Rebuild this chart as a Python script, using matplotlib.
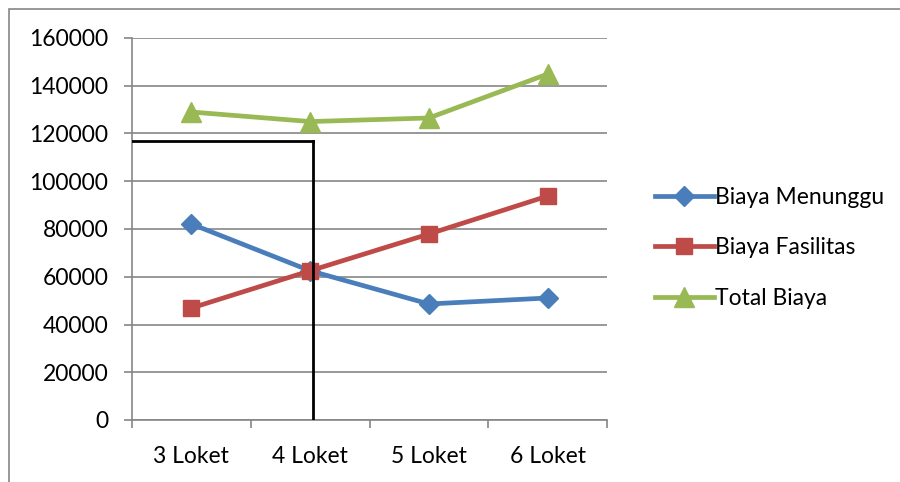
import matplotlib.pyplot as plt
from matplotlib.patches import Rectangle

kategori = ["3 Loket", "4 Loket", "5 Loket", "6 Loket"]
biaya_menunggu = [82100, 62500, 48600, 51100]
biaya_fasilitas = [46900, 62500, 77900, 93800]
total_biaya = [129000, 125000, 126500, 144900]

# garis bantu titik optimum
optimum_x = 1.02
optimum_y = 117000

plt.rcParams['font.family'] = ['Lato', 'DejaVu Sans']

fig = plt.figure(figsize=(9, 4.82), dpi=100)
ax = fig.add_axes([132 / 900, 1 - 420 / 482, 475 / 900, 382 / 482])

x = range(len(kategori))
ax.plot(x, biaya_menunggu, color="#4A7EBB", lw=3.4, marker="D", ms=10,
        label="Biaya Menunggu")
ax.plot(x, biaya_fasilitas, color="#BE4B48", lw=3.4, marker="s", ms=12,
        label="Biaya Fasilitas")
ax.plot(x, total_biaya, color="#98B954", lw=3.4, marker="^", ms=14,
        label="Total Biaya")

ax.plot([-0.5, optimum_x], [optimum_y, optimum_y], color="black", lw=2, zorder=5)
ax.plot([optimum_x, optimum_x], [optimum_y, 0], color="black", lw=2, zorder=5)

ax.set_xlim(-0.5, 3.5)
ax.set_ylim(0, 160000)
ax.set_yticks(range(0, 160001, 20000))
ax.set_xticks(x)
ax.set_xticklabels(kategori)
ax.set_xticks([-0.5, 0.5, 1.5, 2.5, 3.5], minor=True)
ax.tick_params(axis="x", which="major", length=0, pad=19, labelsize=16.5)
ax.tick_params(axis="x", which="minor", length=6, color="#868686", width=1.2)
ax.tick_params(axis="y", length=6, color="#868686", width=1.2, pad=11,
               labelsize=16.5)
ax.grid(axis="y", color="#868686", lw=1.2)
ax.set_axisbelow(True)
for s in ["top", "right"]:
    ax.spines[s].set_visible(False)
for s in ["left", "bottom"]:
    ax.spines[s].set_color("#868686")
    ax.spines[s].set_linewidth(1.2)

fig.legend(loc="center left", bbox_to_anchor=(634 / 900, 1 - 248 / 482),
           frameon=False, fontsize=16.5, handlelength=2.6, handletextpad=0.05,
           labelspacing=1.3)

fig.patches.append(Rectangle((9 / 900, -0.1), 1.0, 1 - 9 / 482 + 0.1,
                             transform=fig.transFigure, fill=False,
                             edgecolor="#868686", lw=1.2))

fig.savefig("out.png", dpi=100)
